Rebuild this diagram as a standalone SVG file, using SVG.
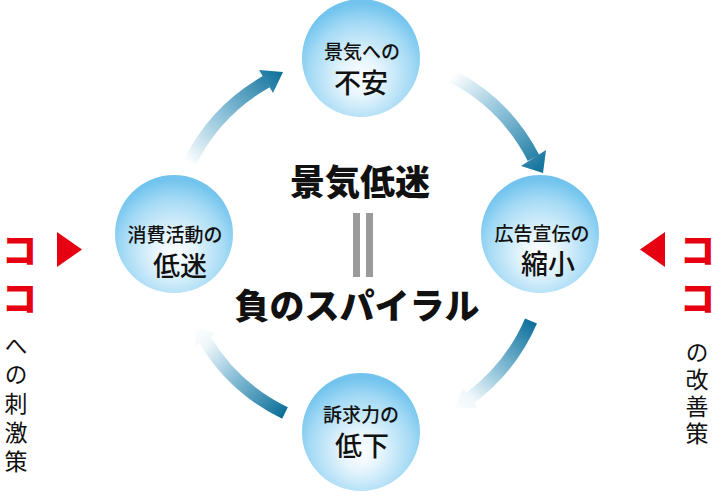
<svg xmlns="http://www.w3.org/2000/svg" width="720" height="496" viewBox="0 0 720 496">
<defs>
<radialGradient id="ball" cx="50%" cy="62%" r="58%" fx="50%" fy="68%">
<stop offset="0" stop-color="#ffffff"/>
<stop offset="0.3" stop-color="#e4f4fc"/>
<stop offset="0.75" stop-color="#a4daf5"/>
<stop offset="1" stop-color="#72c4ee"/>
</radialGradient>
<linearGradient id="gTL" gradientUnits="userSpaceOnUse" x1="190" y1="165" x2="283" y2="72">
<stop offset="0" stop-color="#ffffff"/><stop offset="0.45" stop-color="#8cc1d9"/><stop offset="1" stop-color="#0c6f99"/>
</linearGradient>
<linearGradient id="gTR" gradientUnits="userSpaceOnUse" x1="452" y1="76" x2="543" y2="173">
<stop offset="0" stop-color="#ffffff"/><stop offset="0.45" stop-color="#8cc1d9"/><stop offset="1" stop-color="#0c6f99"/>
</linearGradient>
<linearGradient id="gBR" gradientUnits="userSpaceOnUse" x1="531" y1="320" x2="455" y2="410">
<stop offset="0" stop-color="#0c6f99"/><stop offset="0.5" stop-color="#8cc1d9"/><stop offset="0.82" stop-color="#eef6fa"/><stop offset="1" stop-color="#ffffff"/>
</linearGradient>
<linearGradient id="gBL" gradientUnits="userSpaceOnUse" x1="285" y1="413" x2="194" y2="327">
<stop offset="0" stop-color="#0c6f99"/><stop offset="0.5" stop-color="#8cc1d9"/><stop offset="0.82" stop-color="#eef6fa"/><stop offset="1" stop-color="#ffffff"/>
</linearGradient>
</defs>
<style>
.ball{fill:url(#ball)}
.sm{font-family:"Noto Sans CJK JP",sans-serif;font-size:19px;font-weight:500;fill:#111;text-anchor:middle}
.lg{font-family:"Noto Sans CJK JP",sans-serif;font-size:27px;font-weight:500;fill:#111;text-anchor:middle}
.big{font-family:"Noto Sans CJK JP",serif;font-size:35px;font-weight:900;fill:#111;text-anchor:middle}
.red{font-family:"Noto Sans CJK JP",sans-serif;font-size:36px;font-weight:900;fill:#e60012;writing-mode:vertical-rl}
.vt{font-family:"Noto Sans CJK JP",sans-serif;font-size:23px;font-weight:400;fill:#111;writing-mode:vertical-rl}
.shaft{fill:none;stroke-width:13}
</style>
<rect width="720" height="496" fill="#ffffff"/>
<g id="connectors">
<path class="shaft" stroke="url(#gTL)" d="M190 162 A190 190 0 0 1 266.5 81.5"/>
<polygon fill="url(#gTL)" points="283,72 259,70 273,93"/>
<path class="shaft" stroke="url(#gTR)" d="M452 76 A190 190 0 0 1 533.5 158"/>
<polygon fill="url(#gTR)" points="543,173 521,166 546,150"/>
<path class="shaft" stroke="url(#gBR)" d="M531 321 A190 190 0 0 1 470 398"/>
<polygon fill="url(#gBR)" points="455,409 477,408 463,388"/>
<path class="shaft" stroke="url(#gBL)" d="M285 413 A190 190 0 0 1 205 340"/>
<polygon fill="url(#gBL)" points="196,326 195,346 215,334"/>
</g>
<g id="node-top">
<circle class="ball" cx="361" cy="58" r="59"/>
<text class="sm" x="362" y="59">景気への</text>
<text class="lg" x="361" y="93">不安</text>
</g>
<g id="node-right">
<circle class="ball" cx="540" cy="234" r="59"/>
<text class="sm" x="542" y="241">広告宣伝の</text>
<text class="lg" x="548" y="274">縮小</text>
</g>
<g id="node-bottom">
<circle class="ball" cx="361" cy="432" r="59"/>
<text class="sm" x="361" y="422">訴求力の</text>
<text class="lg" x="362" y="456">低下</text>
</g>
<g id="node-left">
<circle class="ball" cx="174" cy="234" r="59"/>
<text class="sm" x="175" y="242">消費活動の</text>
<text class="lg" x="180" y="276">低迷</text>
</g>
<g id="center">
<text class="big" x="360" y="195">景気低迷</text>
<rect x="353" y="213" width="7" height="64" fill="#9a9a9a"/>
<rect x="366" y="213" width="7" height="64" fill="#9a9a9a"/>
<text class="big" x="357" y="319">負のスパイラル</text>
</g>
<g id="left-note">
<text class="red" x="20" y="232">コ</text>
<text class="red" x="20" y="280">コ</text>
<polygon points="57,232 57,267 82,249.5" fill="#e60012"/>
<text class="vt" x="16" y="334" letter-spacing="6">への刺激策</text>
</g>
<g id="right-note">
<text class="red" x="698" y="232">コ</text>
<text class="red" x="698" y="280">コ</text>
<polygon points="640,249.5 665,232 665,267" fill="#e60012"/>
<text class="vt" x="697" y="341" letter-spacing="4">の改善策</text>
</g>
</svg>
